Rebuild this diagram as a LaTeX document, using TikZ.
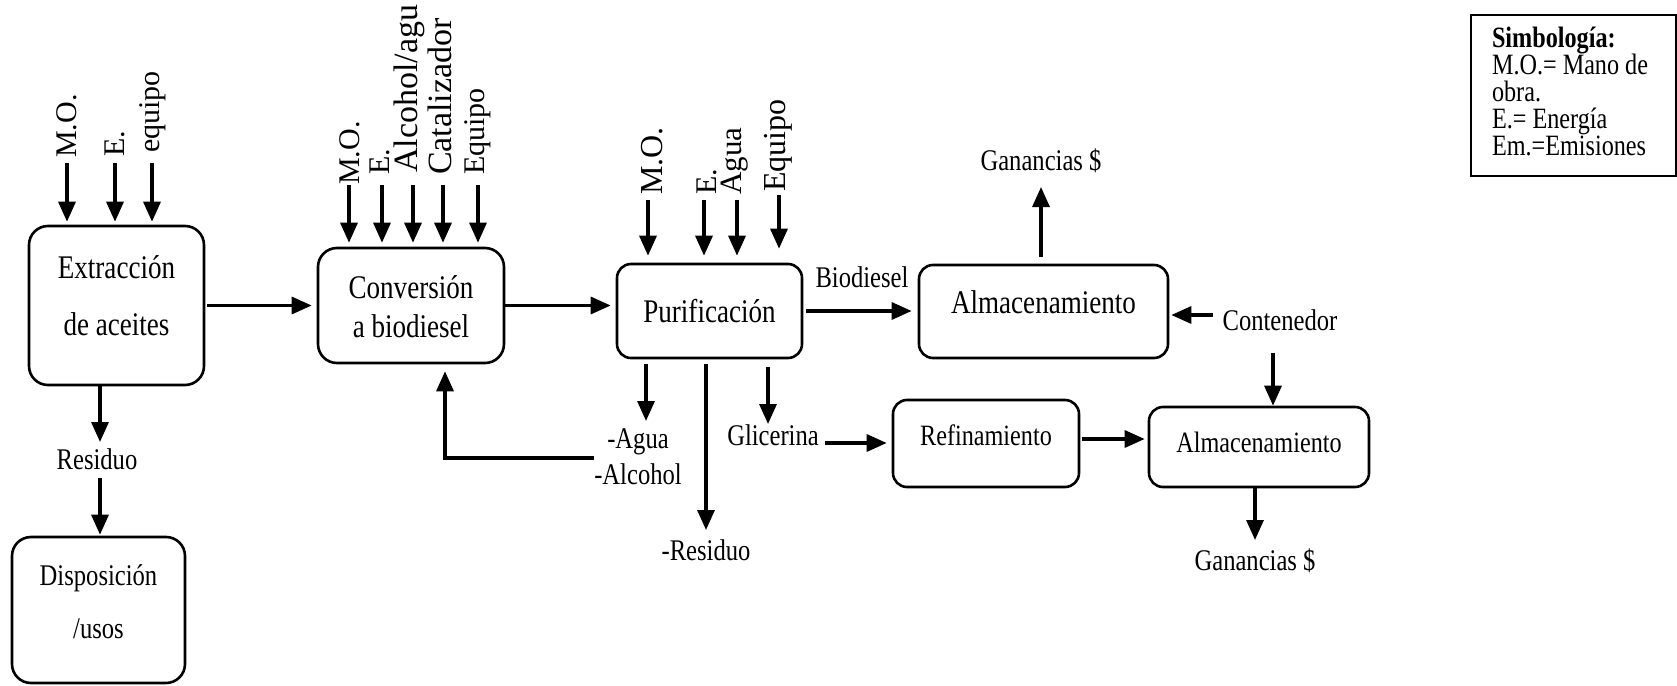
\documentclass[tikz,border=0pt]{standalone}
\usepackage{fontspec}
\setmainfont{Liberation Serif}[FakeStretch=0.82]
\newfontfamily\upfont{Liberation Serif}
\usetikzlibrary{arrows.meta}
% font size and line spacing in bp
\newcommand{\fsz}[2]{\fontsize{#1bp}{#2bp}\selectfont}
% centred / left-aligned line stacks with a fixed baseline distance
\newcommand{\cstack}[2]{\vtop{\baselineskip=#1\lineskiplimit=-\maxdimen\halign{\hfil##\hfil\cr#2\crcr}}}
\newcommand{\lstack}[2]{\vtop{\baselineskip=#1\lineskiplimit=-\maxdimen\halign{##\hfil\cr#2\crcr}}}
\begin{document}
\begin{tikzpicture}[x=1bp, y=-1bp,
  box/.style={draw, line width=2.6bp, rounded corners=14bp, inner sep=0pt, anchor=base},
  bigbox/.style={box, rounded corners=19bp},
  arr/.style={line width=3.2bp, -{Triangle[length=20bp,width=17bp]}},
  lbl/.style={inner sep=0pt, anchor=base, font=\fsz{30}{36}},
  vlbl/.style={inner sep=0pt, anchor=west, rotate=90, font=\upfont\fontsize{30bp}{36bp}\selectfont},
  vbig/.style={vlbl, font=\upfont\fontsize{34bp}{40bp}\selectfont}
]
\useasboundingbox (0,0) rectangle (1677,686);

% process boxes
\node[bigbox, minimum width=175bp, text height=52bp, text depth=107bp, font=\fsz{33}{57}]
  (ext) at (116.5,278) {\cstack{57bp}{Extracción\cr de aceites}};
\node[bigbox, minimum width=186bp, text height=50bp, text depth=65bp, font=\fsz{33}{39}]
  (conv) at (411,298) {\cstack{39bp}{Conversión\cr a biodiesel}};
\node[box, minimum width=185bp, text height=58bp, text depth=36bp, font=\fsz{33}{39}]
  (pur) at (709.5,322) {Purificación};
\node[box, minimum width=249bp, text height=48bp, text depth=45bp, font=\fsz{33}{39}]
  (alm1) at (1043.5,313) {Almacenamiento};
\node[box, minimum width=186bp, text height=45bp, text depth=42bp, font=\fsz{29.5}{36}]
  (ref) at (986,445) {Refinamiento};
\node[box, minimum width=220bp, text height=45bp, text depth=35bp, font=\fsz{29.5}{36}]
  (alm2) at (1259,452) {Almacenamiento};
\node[bigbox, minimum width=173bp, text height=48bp, text depth=98bp, font=\fsz{30}{53}]
  (disp) at (98.5,585) {\cstack{53bp}{Disposición\cr /usos}};

% legend
\node[draw, line width=2bp, inner sep=0pt, anchor=base west, text height=33bp, text depth=128bp,
  font=\fsz{29.5}{27}] (leg) at (1470,48)
  {\makebox[205bp][l]{\hspace{21bp}\lstack{27bp}{\textbf{Simbología:}\cr M.O.= Mano de\cr obra.\cr E.= Energía\cr Em.=Emisiones}}};

% free labels
\node[lbl] (bio) at (862,287) {Biodiesel};
\node[lbl] (gan1) at (1041,170) {Ganancias \$};
\node[lbl] (cont) at (1280,330) {Contenedor};
\node[lbl] (gan2) at (1255,570) {Ganancias \$};
\node[lbl] (resid) at (97,469) {Residuo};
\node[lbl] (agua) at (638,448) {\cstack{36bp}{-Agua\cr-Alcohol}};
\node[lbl] (resid2) at (706,560) {-Residuo};
\node[lbl] (glic) at (773,445) {Glicerina};

% inputs of the extraction step
\node[vlbl] (eMO) at (67,158) {M.O.};
\node[vlbl] (eE) at (115,157) {E.};
\node[vlbl] (eEq) at (153,153) {equipo};
\coordinate (e1) at (67,163);
\coordinate (e2) at (115,163);
\coordinate (e3) at (152,163);
\foreach \c in {e1,e2,e3} \draw[arr, shorten >=3bp] (\c) -- (\c |- ext.north);

% inputs of the conversion step
\node[vlbl] (cMO) at (350,185) {M.O.};
\node[vlbl] (cE) at (380,175) {E.};
\node[vbig] (cAl) at (409,173) {Alcohol/agu};
\node[vbig] (cCat) at (440,175) {Catalizador};
\node[vlbl] (cEq) at (478,175) {Equipo};
\coordinate (c1) at (349,185);
\coordinate (c2) at (382,185);
\coordinate (c3) at (413,185);
\coordinate (c4) at (443,185);
\coordinate (c5) at (478,185);
\foreach \c in {c1,c2,c3,c4,c5} \draw[arr, shorten >=4bp] (\c) -- (\c |- conv.north);

% inputs of the purification step
\node[vlbl, font=\upfont\fontsize{32bp}{38bp}\selectfont] (pMO) at (652,195) {M.O.};
\node[vlbl] (pE) at (707,195) {E.};
\node[vlbl, font=\upfont\fontsize{31bp}{38bp}\selectfont] (pAg) at (735,195) {Agua};
\node[vlbl, font=\upfont\fontsize{32bp}{38bp}\selectfont] (pEq) at (778,192) {Equipo};
\coordinate (p1) at (648,200);
\coordinate (p2) at (704,200);
\coordinate (p3) at (737,200);
\coordinate (p4) at (779,195);
\foreach \c in {p1,p2,p3} \draw[arr, shorten >=7bp] (\c) -- (\c |- pur.north);
\draw[arr, shorten >=14bp] (p4) -- (p4 |- pur.north);

% main line
\draw[arr, shorten <=2bp, shorten >=5bp] (ext.east) -- (ext.east -| conv.west);
\draw[arr, shorten >=5bp] (conv.east) -- (conv.east -| pur.west);
\draw[arr, shorten <=3bp, shorten >=6bp] (pur.east) -- (pur.east -| alm1.west);

% biodiesel storage
\coordinate (g1) at (1041,187);
\draw[arr, shorten <=7bp] (g1 |- alm1.north) -- (g1);
\coordinate (cin) at (1213,315);
\draw[arr, shorten >=2bp] (cin) -- (cin -| alm1.east);
\coordinate (cdn) at (1273,353);
\draw[arr] (cdn) -- (cdn |- alm2.north);

% outputs of the purification step
\coordinate (pa) at (646,421);
\coordinate (pr) at (706,530);
\coordinate (pg) at (768,424);
\draw[arr, shorten <=5bp] (pa |- pur.south) -- (pa);
\draw[arr, shorten <=5bp] (pr |- pur.south) -- (pr);
\draw[arr, shorten <=8bp] (pg |- pur.south) -- (pg);

% recycled water / alcohol
\coordinate (fb) at (594,458);
\coordinate (fbc) at (445,458);
\draw[arr, shorten >=7bp] (fb) -- (fbc) -- (fbc |- conv.south);

% glycerine line
\coordinate (gl) at (825,443);
\draw[arr, shorten >=5bp] (gl) -- (gl -| ref.west);
\coordinate (ra) at (1082,439);
\draw[arr, shorten >=3bp] (ra) -- (ra -| alm2.west);
\coordinate (g2) at (1255,540);
\draw[arr] (g2 |- alm2.south) -- (g2);

% residue of the extraction step
\coordinate (rs) at (100,442);
\draw[arr] (rs |- ext.south) -- (rs);
\coordinate (rs2) at (100,478);
\draw[arr, shorten >=1bp] (rs2) -- (rs2 |- disp.north);
\end{tikzpicture}
\end{document}
